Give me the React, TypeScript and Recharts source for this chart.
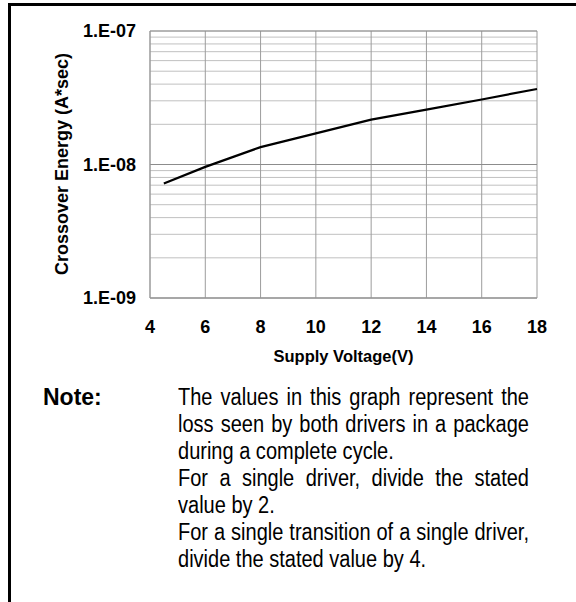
import React from "react"
import { LineChart, Line, XAxis, YAxis, CartesianGrid, ReferenceLine } from "recharts"

// supply voltage (V) vs crossover energy (A*sec)
const voltage = [4.5, 6, 8, 10, 12, 14, 16, 18]
const energy = [7.2e-9, 9.6e-9, 1.35e-8, 1.71e-8, 2.17e-8, 2.58e-8, 3.07e-8, 3.68e-8]

const xTicks = [4, 6, 8, 10, 12, 14, 16, 18]
const yMajor = [1e-9, 1e-8, 1e-7]
const yMajorLabels = ["1.E-09", "1.E-08", "1.E-07"]
const yMinor = [
  2e-9, 3e-9, 4e-9, 5e-9, 6e-9, 7e-9, 8e-9, 9e-9,
  2e-8, 3e-8, 4e-8, 5e-8, 6e-8, 7e-8, 8e-8, 9e-8,
]

const noteLines: { text: string; justify: boolean }[] = [
  { text: "The values in this graph represent the", justify: true },
  { text: "loss seen by both drivers in a package", justify: true },
  { text: "during a complete cycle.", justify: false },
  { text: "For a single driver, divide the stated", justify: true },
  { text: "value by 2.", justify: false },
  { text: "For a single transition of a single driver,", justify: true },
  { text: "divide the stated value by 4.", justify: false },
]

const FONT = "'Liberation Sans', Arial, Helvetica, sans-serif"

const data = voltage.map((v, i) => ({ v, e: energy[i] }))
const yAll = [...yMajor, ...yMinor].sort((a, b) => a - b)

const fmtY = (val: number) => {
  const i = yMajor.findIndex((m) => Math.abs(m - val) / m < 1e-6)
  return i >= 0 ? yMajorLabels[i] : ""
}

const tickStyle = { fill: "#000", fontSize: 18, fontWeight: 700, fontFamily: FONT }

// the note text in the source is a bit narrow, squeeze it horizontally
const NOTE_SQUEEZE = 0.87

export default function App() {
  return (
    <div
      style={{
        position: "absolute",
        left: 0,
        top: 0,
        width: 576,
        height: 602,
        background: "#fff",
        overflow: "hidden",
        fontFamily: FONT,
      }}
    >
      {/* frame: only the left and top edges are visible */}
      <div
        style={{
          position: "absolute",
          left: 8,
          top: 3,
          width: 600,
          height: 640,
          borderLeft: "3px solid #000",
          borderTop: "3px solid #000",
        }}
      />

      <div style={{ position: "absolute", left: 0, top: 0 }}>
        <LineChart
          width={576}
          height={340}
          data={data}
          margin={{ top: 31, right: 39, bottom: 12, left: 70 }}
        >
          <CartesianGrid horizontal={true} vertical={false} stroke="#c0c0c0" strokeWidth={1} />
          <CartesianGrid horizontal={false} vertical={true} stroke="#9c9c9c" strokeWidth={1} />
          <XAxis
            dataKey="v"
            type="number"
            domain={[4, 18]}
            ticks={xTicks}
            interval={0}
            tickLine={false}
            tickSize={0}
            tickMargin={22}
            axisLine={{ stroke: "#999" }}
            tick={tickStyle}
            height={30}
          />
          <YAxis
            type="number"
            scale="log"
            domain={[1e-9, 1e-7]}
            allowDataOverflow
            ticks={yAll}
            interval={0}
            tickFormatter={fmtY}
            tickLine={false}
            tickSize={0}
            tickMargin={14}
            axisLine={{ stroke: "#999" }}
            tick={tickStyle}
            width={80}
          />
          {yMajor.map((m) => (
            <ReferenceLine key={m} y={m} stroke="#8c8c8c" strokeWidth={1} />
          ))}
          <Line
            type="linear"
            dataKey="e"
            stroke="#000"
            strokeWidth={2.2}
            dot={false}
            isAnimationActive={false}
          />
        </LineChart>
      </div>

      {/* axis titles */}
      <div
        style={{
          position: "absolute",
          left: 62,
          top: 164,
          transform: "translate(-50%, -50%) rotate(-90deg)",
          whiteSpace: "nowrap",
          fontSize: 18,
          fontWeight: 700,
          lineHeight: 1,
        }}
      >
        Crossover Energy (A*sec)
      </div>
      <div
        style={{
          position: "absolute",
          left: 343.5,
          top: 348,
          transform: "translateX(-50%)",
          whiteSpace: "nowrap",
          fontSize: 16.5,
          fontWeight: 700,
          lineHeight: 1,
        }}
      >
        Supply Voltage(V)
      </div>

      {/* note */}
      <div
        style={{
          position: "absolute",
          left: 43,
          top: 384,
          fontSize: 23,
          fontWeight: 700,
          lineHeight: "27px",
        }}
      >
        Note:
      </div>
      <div
        style={{
          position: "absolute",
          left: 178,
          top: 384,
          width: 351 / NOTE_SQUEEZE,
          fontSize: 23,
          lineHeight: "27px",
          color: "#000",
          transform: `scaleX(${NOTE_SQUEEZE})`,
          transformOrigin: "0 0",
        }}
      >
        {noteLines.map((l, i) => (
          <div
            key={i}
            style={{
              whiteSpace: "nowrap",
              textAlign: l.justify ? "justify" : "left",
              textAlignLast: l.justify ? "justify" : "left",
            }}
          >
            {l.text}
          </div>
        ))}
      </div>
    </div>
  )
}
